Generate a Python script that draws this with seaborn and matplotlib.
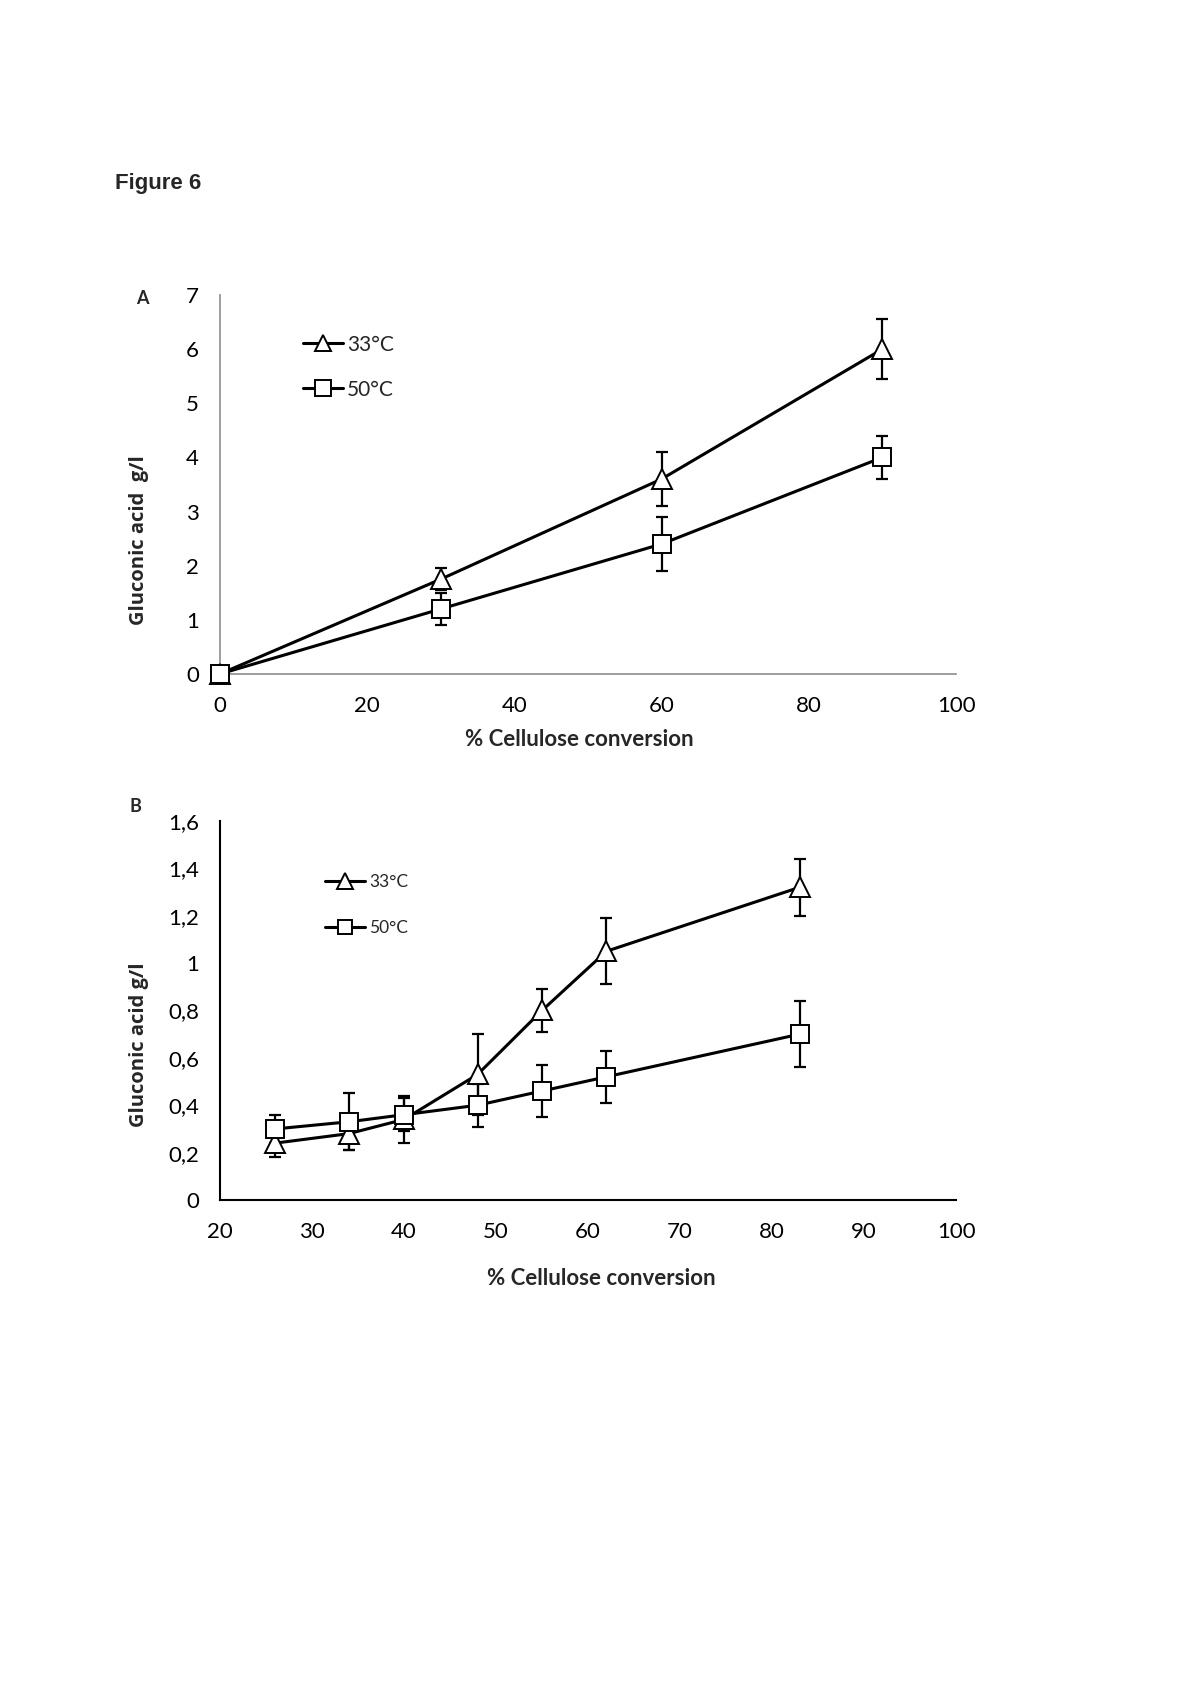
import numpy as np
import pandas as pd
import matplotlib
matplotlib.use("Agg")
import matplotlib.pyplot as plt
import seaborn as sns

# ---- data ----
a_x = [0, 30, 60, 90]
a_33 = [0.0, 1.75, 3.6, 6.0]
a_33_err = [0.0, 0.2, 0.5, 0.55]
a_50 = [0.0, 1.2, 2.4, 4.0]
a_50_err = [0.0, 0.3, 0.5, 0.4]

b_x = [26, 34, 40, 48, 55, 62, 83]
b_33 = [0.24, 0.28, 0.34, 0.53, 0.80, 1.05, 1.32]
b_33_err = [0.06, 0.07, 0.10, 0.17, 0.09, 0.14, 0.12]
b_50 = [0.30, 0.33, 0.36, 0.40, 0.46, 0.52, 0.70]
b_50_err = [0.06, 0.12, 0.07, 0.09, 0.11, 0.11, 0.14]

series_labels = ["33°C", "50°C"]
a_xticks = [0, 20, 40, 60, 80, 100]
a_yticks = [0, 1, 2, 3, 4, 5, 6, 7]
b_xticks = [20, 30, 40, 50, 60, 70, 80, 90, 100]
b_yticks = [0, 0.2, 0.4, 0.6, 0.8, 1.0, 1.2, 1.4, 1.6]
b_yticklabels = ["0", "0,2", "0,4", "0,6", "0,8", "1", "1,2", "1,4", "1,6"]

sns.set_style("white")
plt.rcParams['font.family'] = ['Lato', 'DejaVu Sans']

fig = plt.figure(figsize=(12, 16.98), dpi=100)

axA = fig.add_axes([0.1833, 0.6031, 0.6134, 0.2232])
axB = fig.add_axes([0.1833, 0.2933, 0.6134, 0.2232])


def draw(ax, x, y33, e33, y50, e50, ms):
    for y, e, m, lab, msz in [(y33, e33, '^', series_labels[0], ms + 1),
                               (y50, e50, 's', series_labels[1], ms)]:
        ax.errorbar(x, y, yerr=e, fmt='none', ecolor='black', elinewidth=1.6,
                    capsize=4, capthick=1.6, zorder=2, clip_on=False)
        df = pd.DataFrame({"x": x, "y": y})
        sns.lineplot(data=df, x="x", y="y", ax=ax, color='black', linewidth=2.2,
                     marker=m, markersize=msz, markerfacecolor='white',
                     markeredgecolor='black', markeredgewidth=1.4,
                     label=lab, zorder=3)
    for ln in ax.lines:
        ln.set_clip_on(False)


draw(axA, a_x, a_33, a_33_err, a_50, a_50_err, 13)
draw(axB, b_x, b_33, b_33_err, b_50, b_50_err, 13)

tick_font = 16
# Panel A
axA.set_xlim(0, 100)
axA.set_ylim(0, 7)
axA.set_xticks(a_xticks)
axA.set_yticks(a_yticks)
axA.set_xticklabels([str(v) for v in a_xticks])
axA.set_yticklabels([str(v) for v in a_yticks])
for s in ['top', 'right']:
    axA.spines[s].set_visible(False)
for s in ['left', 'bottom']:
    axA.spines[s].set_color('#8c8c8c')
    axA.spines[s].set_linewidth(1.2)

# Panel B
axB.set_xlim(20, 100)
axB.set_ylim(0, 1.6)
axB.set_xticks(b_xticks)
axB.set_yticks(b_yticks)
axB.set_xticklabels([str(v) for v in b_xticks])
axB.set_yticklabels(b_yticklabels)
for s in ['top', 'right']:
    axB.spines[s].set_visible(False)
for s in ['left', 'bottom']:
    axB.spines[s].set_color('black')
    axB.spines[s].set_linewidth(1.5)

for ax in (axA, axB):
    ax.tick_params(axis='both', length=0, labelsize=tick_font, colors='black')
    ax.tick_params(axis='y', pad=15)
    ax.tick_params(axis='x', pad=16)
    ax.grid(False)

# axis labels
axA.set_xlabel("% Cellulose conversion", fontsize=16, fontweight='bold')
axA.xaxis.label.set_va('center')
axA.xaxis.set_label_coords(0.488, -0.174)
axA.set_ylabel("Gluconic acid  g/l", fontsize=14.5, fontweight='bold',
               family=['Open Sans', 'DejaVu Sans'])
axA.yaxis.label.set_va('center')
axA.yaxis.set_label_coords(-0.11, 0.354)

axB.set_xlabel("% Cellulose conversion", fontsize=16, fontweight='bold')
axB.xaxis.label.set_va('center')
axB.xaxis.set_label_coords(0.518, -0.206)
axB.set_ylabel("Gluconic acid g/l", fontsize=14.5, fontweight='bold',
               family=['Open Sans', 'DejaVu Sans'])
axB.yaxis.label.set_va('center')
axB.yaxis.set_label_coords(-0.11, 0.409)

# legends
hA, lA = axA.get_legend_handles_labels()
axA.legend(hA, lA, loc='upper left', bbox_to_anchor=(0.113, 0.895), frameon=False,
           fontsize=15, handlelength=1.9, handletextpad=0.2, labelspacing=1.2,
           borderpad=0, borderaxespad=0, markerscale=0.85)
hB, lB = axB.get_legend_handles_labels()
axB.legend(hB, lB, loc='upper left', bbox_to_anchor=(0.143, 0.86), frameon=False,
           fontsize=12.5, handlelength=2.3, handletextpad=0.25, labelspacing=1.75,
           borderpad=0, borderaxespad=0, markerscale=0.8)

# titles / panel letters
fig.text(115 / 1200, 1 - 184 / 1698, "Figure 6", ha='left', va='center',
         fontsize=16, fontweight='bold', family=['Liberation Sans', 'DejaVu Sans'])
fig.text(142 / 1200, 1 - 299 / 1698, "A", ha='center', va='center',
         fontsize=13, fontweight='bold')
fig.text(135 / 1200, 1 - 806 / 1698, "B", ha='center', va='center',
         fontsize=13, fontweight='bold')

fig.savefig("out.png", dpi=100, facecolor='white')
